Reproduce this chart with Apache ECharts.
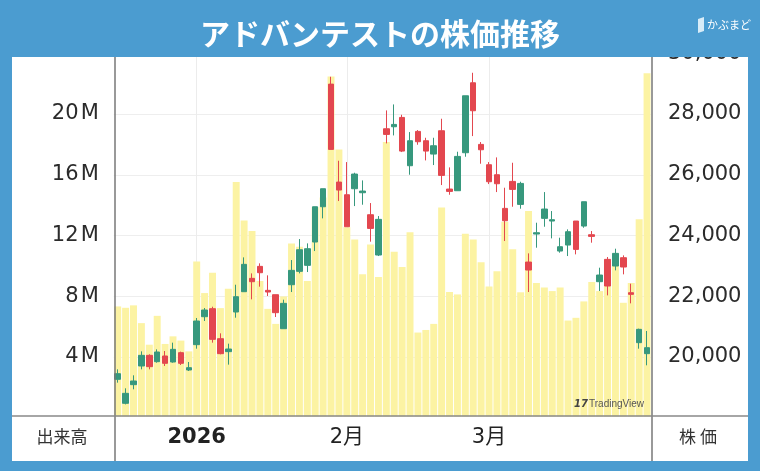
<!DOCTYPE html>
<html>
<head>
<meta charset="utf-8">
<title>アドバンテストの株価推移</title>
<script src="https://cdn.jsdelivr.net/npm/echarts@6.0.0/dist/echarts.min.js"></script>
<style>
  html, body { margin: 0; padding: 0; }
  #chart { width: 760px; height: 471px; }
</style>
</head>
<body>
<div id="chart"></div>
<script>
// 営業日
const dates = [
  '2025-12-17', '2025-12-18', '2025-12-19', '2025-12-22', '2025-12-23', '2025-12-24', '2025-12-25', '2025-12-26', '2025-12-29', '2025-12-30',
  '2026-01-05', '2026-01-06', '2026-01-07', '2026-01-08', '2026-01-09', '2026-01-13', '2026-01-14', '2026-01-15', '2026-01-16',
  '2026-01-19', '2026-01-20', '2026-01-21', '2026-01-22', '2026-01-23', '2026-01-26', '2026-01-27', '2026-01-28', '2026-01-29', '2026-01-30',
  '2026-02-02', '2026-02-03', '2026-02-04', '2026-02-05', '2026-02-06', '2026-02-09', '2026-02-10', '2026-02-12', '2026-02-13',
  '2026-02-16', '2026-02-17', '2026-02-18', '2026-02-19', '2026-02-20', '2026-02-24', '2026-02-25', '2026-02-26', '2026-02-27',
  '2026-03-02', '2026-03-03', '2026-03-04', '2026-03-05', '2026-03-06', '2026-03-09', '2026-03-10', '2026-03-11', '2026-03-12', '2026-03-13',
  '2026-03-16', '2026-03-17', '2026-03-18', '2026-03-19', '2026-03-23', '2026-03-24', '2026-03-25', '2026-03-26', '2026-03-27', '2026-03-30', '2026-03-31'
]
// 株価 (円)
const opens = [
  19265, 18475, 19089, 19704, 20055, 19846, 20033, 19835, 20143, 19572,
  20406, 21327, 21591, 20603, 20176, 21481, 22150, 22589, 22984,
  22194, 22051, 20932, 22380, 22819, 23017, 23785, 24947, 28984, 25759,
  25342, 25540, 25408, 24684, 23357, 27514, 27580, 27887, 26297,
  27427, 27120, 26681, 27449, 25529, 25474, 26725, 29028, 26999,
  26330, 26001, 24893, 25781, 25024, 23126, 24048, 24564, 24476, 23488,
  23686, 24476, 24311, 24026, 22479, 23214, 22995, 23269, 22117, 20472, 20110
]
const closes = [
  19451, 18804, 19210, 20055, 19682, 20165, 19792, 20252, 19792, 19649,
  21185, 21547, 20581, 20110, 20263, 21986, 23050, 22479, 22775,
  22139, 21459, 21766, 22852, 23532, 23565, 24947, 25540, 26834, 25496,
  24289, 26023, 25463, 24234, 24531, 27328, 27657, 26779, 27120,
  27087, 26779, 26955, 25979, 25452, 26604, 28600, 28107, 26823,
  25770, 25704, 24487, 25518, 25715, 22863, 24092, 24871, 24520, 23631,
  24125, 23543, 25112, 23971, 22699, 22337, 23412, 22962, 22062, 20911, 20307
]
const lows = [
  19155, 18440, 18936, 19594, 19594, 19813, 19704, 19813, 19737, 19539,
  20274, 21185, 20472, 20088, 19748, 21294, 22150, 21898, 22315,
  22008, 21316, 20932, 22139, 22753, 22797, 23488, 24564, 26834, 25134,
  24289, 24969, 25013, 23796, 23324, 27032, 27295, 26747, 26001,
  26988, 26472, 26319, 25661, 25342, 25474, 26593, 27273, 26363,
  25693, 25430, 23818, 24947, 24882, 22139, 23598, 24289, 23905, 23434,
  23324, 23379, 24256, 23763, 22172, 22029, 22852, 22721, 21766, 20274, 19726
]
const highs = [
  19594, 18969, 19397, 20186, 20088, 20252, 20197, 20472, 20176, 19835,
  21284, 21613, 21656, 20779, 20439, 22380, 23280, 22753, 23083,
  22688, 22051, 21887, 23192, 23883, 23741, 24947, 25540, 29226, 26461,
  26417, 26066, 25814, 25068, 24640, 28118, 28315, 27975, 27405,
  27471, 27218, 27218, 27844, 26242, 26758, 28600, 29357, 27076,
  26417, 26571, 25573, 26395, 25770, 23412, 24421, 25430, 24805, 23927,
  24202, 24476, 25112, 24147, 22940, 23291, 23565, 23346, 22413, 20932, 20856
]
// 出来高 (百万株)
const volumes = [
  7.33, 7.24, 7.40, 6.23, 4.81, 6.71, 4.86, 5.36, 5.08, 4.37,
  10.29, 8.21, 9.54, 7.22, 8.50, 15.52, 12.98, 12.30, 9.01,
  7.17, 6.18, 7.99, 11.48, 11.26, 9.01, 13.86, 14.50, 22.47, 17.66,
  12.54, 11.74, 9.45, 11.41, 9.27, 18.15, 10.93, 9.93, 12.21,
  5.61, 5.78, 6.18, 13.84, 8.28, 8.12, 12.12, 11.74, 10.24,
  8.65, 9.65, 12.91, 11.10, 8.26, 13.62, 8.87, 8.57, 8.34, 8.57,
  6.40, 6.58, 7.66, 8.94, 8.34, 10.10, 10.00, 7.57, 8.87, 13.07, 22.69
]
// 目盛ラベル
const priceTicks = [20000, 22000, 24000, 26000, 28000, 30000]
const volumeTicks = [4, 8, 12, 16, 20]

const BLUE = '#4b9cd0'
const UP = '#37987d'
const DOWN = '#e3474f'
const FONT = "'DejaVu Sans', 'Noto Sans CJK JP', sans-serif"
const CJK = "'Noto Sans CJK JP', sans-serif"

// 年・月が変わる足に目盛を付ける
function dateTick(index) {
  if (index === 0) return ''
  const [y, m] = dates[index].split('-')
  const [py, pm] = dates[index - 1].split('-')
  if (y !== py) return '{y|' + y + '}'
  if (m !== pm) return Number(m) + '月'
  return ''
}
const tickIndexes = dates.map((d, i) => i).filter(i => dateTick(i) !== '')

const candles = dates.map((d, i) => [opens[i], closes[i], lows[i], highs[i]])

const chart = echarts.init(document.getElementById('chart'))
chart.setOption({
  animation: false,
  backgroundColor: BLUE,
  grid: { left: 113.75, right: 109, top: 53.25, height: 364.5 },
  xAxis: {
    type: 'category',
    data: dates,
    boundaryGap: true,
    z: 60,
    axisLine: { show: false },
    axisTick: { show: false },
    splitLine: { show: false },
    axisLabel: {
      interval: (index) => dateTick(index) !== '',
      formatter: (value, index) => dateTick(index),
      margin: 9,
      fontSize: 21,
      color: '#222',
      fontFamily: FONT,
      rich: { y: { fontSize: 21, fontWeight: 'bold', color: '#222', fontFamily: FONT } }
    }
  },
  yAxis: [
    {
      type: 'value',
      position: 'right',
      min: 18000,
      max: 30000,
      interval: 2000,
      axisLine: { show: false },
      axisTick: { show: false },
      splitLine: { lineStyle: { color: '#eeeeee', width: 1 } },
      axisLabel: {
        margin: 17,
        fontSize: 21,
        color: '#2b2b2b',
        fontFamily: FONT,
        formatter: (v) => priceTicks.includes(v) ? v.toLocaleString('en-US') : ''
      }
    },
    {
      type: 'value',
      position: 'left',
      min: 0,
      max: 24,
      interval: 4,
      axisLine: { show: false },
      axisTick: { show: false },
      splitLine: { show: false },
      axisLabel: {
        margin: 15,
        fontSize: 21,
        color: '#2b2b2b',
        fontFamily: FONT,
        formatter: (v) => volumeTicks.includes(v) ? v + '\u200aM' : ''
      }
    }
  ],
  series: [
    {
      name: '出来高',
      type: 'bar',
      yAxisIndex: 1,
      data: volumes,
      barCategoryGap: '12%',
      itemStyle: { color: '#fcf3a3' },
      z: 1,
      markLine: {
        silent: true,
        symbol: ['none', 'none'],
        label: { show: false },
        lineStyle: { color: '#ececec', width: 1, type: 'solid' },
        z: 0,
        data: tickIndexes.map(i => ({ xAxis: dates[i] }))
      }
    },
    {
      name: '株価',
      type: 'candlestick',
      yAxisIndex: 0,
      data: candles,
      barWidth: 6,
      z: 3,
      itemStyle: {
        color: UP,
        color0: DOWN,
        borderColor: UP,
        borderColor0: DOWN,
        borderWidth: 1
      }
    }
  ],
  graphic: [
    // 白いパネル
    { type: 'rect', z: -10, shape: { x: 12, y: 57, width: 736, height: 404 }, style: { fill: '#fff' } },
    // ヘッダー帯・下段ラベル行
    { type: 'rect', z: 50, shape: { x: 0, y: 0, width: 760, height: 57 }, style: { fill: BLUE } },
    { type: 'rect', z: 50, shape: { x: 12, y: 416.5, width: 736, height: 44.5 }, style: { fill: '#fff' } },
    // 枠線
    { type: 'line', z: 55, shape: { x1: 115, y1: 57, x2: 115, y2: 461 }, style: { stroke: '#777', lineWidth: 1.5 } },
    { type: 'line', z: 55, shape: { x1: 652, y1: 57, x2: 652, y2: 461 }, style: { stroke: '#777', lineWidth: 1.5 } },
    { type: 'line', z: 55, shape: { x1: 12, y1: 416, x2: 748, y2: 416 }, style: { stroke: '#888', lineWidth: 1.5 } },
    // タイトル
    {
      type: 'text', z: 60, x: 380, y: 34,
      style: { text: 'アドバンテストの株価推移', fill: '#fff', font: 'bold 30px ' + CJK, textAlign: 'center', textVerticalAlign: 'middle' }
    },
    // ロゴ
    { type: 'polygon', z: 60, shape: { points: [[698, 19], [704, 17], [704, 31], [698, 33]] }, style: { fill: '#d8ecf8' } },
    {
      type: 'text', z: 60, x: 707, y: 25,
      style: { text: 'かぶまど', fill: '#fff', font: '11px ' + CJK, textAlign: 'left', textVerticalAlign: 'middle' }
    },
    // 軸名
    {
      type: 'text', z: 60, x: 62, y: 437,
      style: { text: '出来高', fill: '#333', font: '17px ' + CJK, textAlign: 'center', textVerticalAlign: 'middle' }
    },
    {
      type: 'text', z: 60, x: 698, y: 437,
      style: { text: '株 価', fill: '#333', font: '17px ' + CJK, textAlign: 'center', textVerticalAlign: 'middle' }
    },
    // TradingView ロゴ
    {
      type: 'text', z: 60, x: 574, y: 404,
      style: { text: '17', fill: '#444', font: 'bold italic 10px ' + FONT, textAlign: 'left', textVerticalAlign: 'middle' }
    },
    {
      type: 'text', z: 60, x: 589, y: 404,
      style: { text: 'TradingView', fill: '#555', font: "10px 'Liberation Sans', sans-serif", textAlign: 'left', textVerticalAlign: 'middle' }
    }
  ]
})
</script>
</body>
</html>
